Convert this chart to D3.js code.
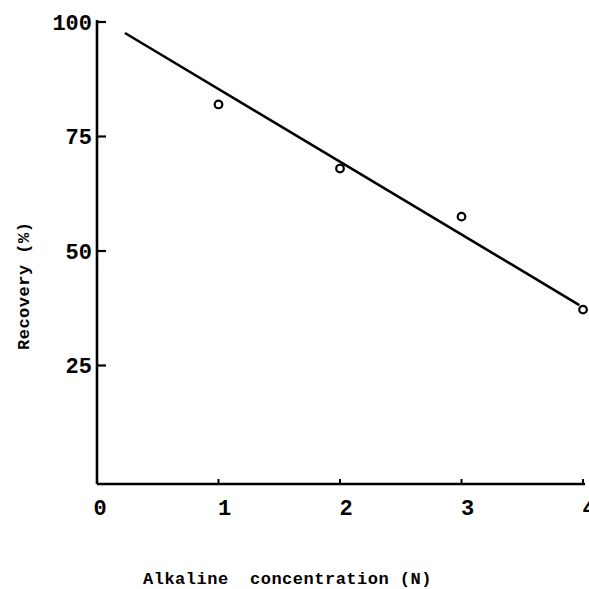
<!DOCTYPE html>
<html><head><meta charset="utf-8">
<script src="https://cdn.jsdelivr.net/npm/d3@7"></script>
<style>
html,body{margin:0;padding:0;background:#fff;}
text{font-family:"Liberation Mono","DejaVu Sans Mono",monospace;font-weight:bold;fill:#000;}
</style></head>
<body>
<svg id="c" width="589" height="589"></svg>
<script>
// Data
const concentrations = [1, 2, 3, 4];
const recoveries = [82, 68, 57.5, 37.2];
const fitLineX = [0.23, 3.97];
const fitLineY = [97.6, 38.2];
const xTicks = [0, 1, 2, 3, 4];
const yTicks = [25, 50, 75, 100];
const xTitle = "Alkaline  concentration (N)";
const yTitle = "Recovery (%)";

const svg = d3.select("#c");
const x = d3.scaleLinear().domain([0, 4]).range([97, 583]);
const y = d3.scaleLinear().domain([0, 100]).range([480, 22]);
const axisY = 484;

// axes lines
svg.append("line").attr("x1", x(0)).attr("x2", x(0)).attr("y1", 20).attr("y2", axisY)
  .attr("stroke", "#000").attr("stroke-width", 2.6);
svg.append("line").attr("x1", x(0)).attr("x2", 585).attr("y1", axisY).attr("y2", axisY)
  .attr("stroke", "#000").attr("stroke-width", 2.6);

// y ticks
const yg = svg.append("g");
yg.selectAll("line").data(yTicks).join("line")
  .attr("x1", x(0)).attr("x2", x(0) + 9)
  .attr("y1", d => y(d)).attr("y2", d => y(d))
  .attr("stroke", "#000").attr("stroke-width", 2.2);
yg.selectAll("text").data(yTicks).join("text")
  .attr("x", 92).attr("y", d => y(d)).attr("dy", "0.35em")
  .attr("text-anchor", "end").attr("font-size", 22)
  .text(d => d);

// x ticks
const xg = svg.append("g");
xg.selectAll("line").data(xTicks.slice(1)).join("line")
  .attr("x1", d => x(d)).attr("x2", d => x(d))
  .attr("y1", axisY).attr("y2", axisY - 5)
  .attr("stroke", "#000").attr("stroke-width", 2);
xg.selectAll("text").data(xTicks).join("text")
  .attr("x", d => x(d) + (d === 0 ? 3 : 6)).attr("y", 515)
  .attr("text-anchor", "middle").attr("font-size", 22)
  .text(d => d);

// fitted line
const lineData = fitLineX.map((v, i) => [v, fitLineY[i]]);
svg.append("path").datum(lineData)
  .attr("d", d3.line().x(d => x(d[0])).y(d => y(d[1])))
  .attr("fill", "none").attr("stroke", "#000").attr("stroke-width", 2.6);

// points
svg.append("g").selectAll("circle").data(concentrations).join("circle")
  .attr("cx", d => x(d)).attr("cy", (d, i) => y(recoveries[i]))
  .attr("r", 3.8).attr("fill", "#fff").attr("stroke", "#000").attr("stroke-width", 2.2);

// titles
svg.append("text").attr("x", 143).attr("y", 584)
  .attr("font-size", 17).attr("letter-spacing", 0.5)
  .style("white-space", "pre").attr("xml:space", "preserve")
  .text(xTitle);
svg.append("text").attr("transform", "translate(29,350) rotate(-90)")
  .attr("font-size", 17).attr("letter-spacing", 0.5).text(yTitle);
</script>
</body></html>
